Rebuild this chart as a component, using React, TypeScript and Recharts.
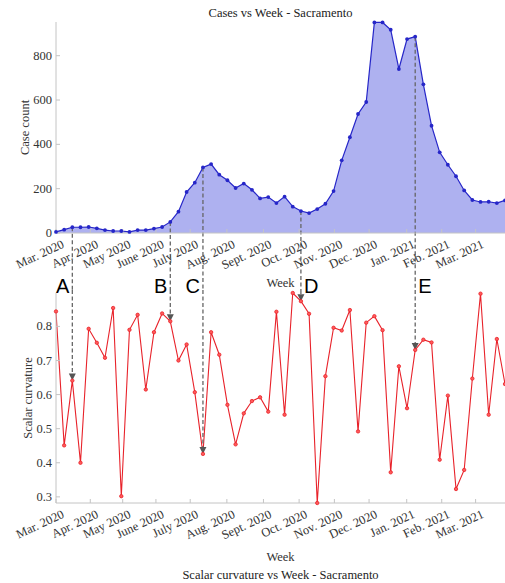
import React from "react";
import {
  ComposedChart,
  Area,
  Line,
  XAxis,
  YAxis,
  ReferenceLine,
} from "recharts";

// weekly case counts, Sacramento, starting first week of Mar. 2020
const caseCounts = [
  5, 15, 26, 26, 27, 21, 13, 9, 9, 5, 13, 13, 20, 27, 50, 96, 185, 227, 296,
  311, 263, 238, 203, 223, 195, 156, 162, 135, 164, 119, 99, 90, 108, 132, 189,
  328, 432, 537, 591, 950, 950, 917, 740, 875, 886, 671, 484, 364, 308, 256,
  192, 149, 140, 141, 135, 147,
];

// scalar curvature for the same weeks
const curvature = [
  0.844, 0.451, 0.641, 0.4, 0.793, 0.752, 0.708, 0.854, 0.302, 0.79, 0.834,
  0.615, 0.783, 0.838, 0.815, 0.7, 0.747, 0.607, 0.426, 0.783, 0.717, 0.57,
  0.454, 0.545, 0.581, 0.592, 0.55, 0.843, 0.541, 0.898, 0.874, 0.837, 0.282,
  0.654, 0.796, 0.788, 0.848, 0.492, 0.811, 0.83, 0.789, 0.372, 0.683, 0.56,
  0.731, 0.761, 0.753, 0.409, 0.597, 0.323, 0.379, 0.647, 0.896, 0.541, 0.763,
  0.631,
];

// month ticks, in week units
const monthTicks = [
  0, 4.2, 8.17, 12.24, 16.44, 20.93, 25.41, 29.78, 34.1, 38.35, 42.96, 47.25,
  51.4,
];
const monthLabels = [
  "Mar. 2020",
  "Apr. 2020",
  "May 2020",
  "June 2020",
  "July 2020",
  "Aug. 2020",
  "Sept. 2020",
  "Oct. 2020",
  "Nov. 2020",
  "Dec. 2020",
  "Jan. 2021",
  "Feb. 2021",
  "Mar. 2021",
];

const caseTicks = [0, 200, 400, 600, 800];
const curvatureTicks = [0.3, 0.4, 0.5, 0.6, 0.7, 0.8];

// annotated weeks
const markerLetters = ["A", "B", "C", "D", "E"];
const markerWeeks = [2, 14, 18, 30, 44];
const markerSide = ["left", "left", "left", "right", "right"];

const data = caseCounts.map((c, i) => ({
  week: i,
  cases: c,
  curvature: curvature[i],
}));

const W = 505;
const TOP_H = 300;
const BOTTOM_Y = 290;
const BOTTOM_H = 583 - BOTTOM_Y;
const CASE_DOMAIN: [number, number] = [0, 952];
const CURV_DOMAIN: [number, number] = [0.282, 0.898];

const SERIF = "'Liberation Serif', 'Times New Roman', serif";
const AXIS_GRAY = "#c4c4c4";
const TEXT_GRAY = "#333";
const DASH = "#666";

const serifStyle: React.CSSProperties = { fontFamily: SERIF };

const MonthTick = (props: any) => {
  const { x, y, payload } = props;
  const idx = monthTicks.indexOf(payload.value);
  const tx = x + 9;
  const ty = y + 14;
  return (
    <text
      x={tx}
      y={ty}
      transform={`rotate(-25, ${tx}, ${ty})`}
      textAnchor="end"
      style={serifStyle}
      fontSize={12.5}
      fill={TEXT_GRAY}
    >
      {monthLabels[idx] ?? ""}
    </text>
  );
};

const ValueTick = (props: any) => {
  const { x, y, payload } = props;
  return (
    <text
      x={x}
      y={y + 4}
      textAnchor="end"
      style={serifStyle}
      fontSize={12.5}
      fill={TEXT_GRAY}
    >
      {payload.value}
    </text>
  );
};

// dashed line from the case point down to the bottom of the top chart, plus the letter
const topMarkerShape = (letter: string, side: string) => (props: any) => {
  const { x1, y1, y2 } = props;
  const ly = y2 + 60;
  return (
    <g>
      <line
        x1={x1}
        y1={y1}
        x2={x1}
        y2={BOTTOM_Y}
        stroke={DASH}
        strokeWidth={1.3}
        strokeDasharray="4 2.5"
      />
      <text
        x={side === "left" ? x1 - 3 : x1 + 3}
        y={ly}
        textAnchor={side === "left" ? "end" : "start"}
        style={{ fontFamily: "'Liberation Sans', Arial, sans-serif" }}
        fontSize={20}
        fill="#000"
      >
        {letter}
      </text>
    </g>
  );
};

// dashed line from the top of the bottom chart down to the curvature point, with arrow
const bottomMarkerShape = (props: any) => {
  const { x1, y2 } = props;
  return (
    <g>
      <line
        x1={x1}
        y1={0}
        x2={x1}
        y2={y2 - 6}
        stroke={DASH}
        strokeWidth={1.3}
        strokeDasharray="4 2.5"
      />
      <polygon
        points={`${x1 - 3.5},${y2 - 7} ${x1 + 3.5},${y2 - 7} ${x1},${y2}`}
        fill="#555"
      />
    </g>
  );
};

const titleStyle: React.CSSProperties = {
  position: "absolute",
  left: 56,
  width: W - 56,
  textAlign: "center",
  fontFamily: SERIF,
  fontSize: 12.5,
  lineHeight: "16px",
  color: "#222",
};

const axisLabel = {
  fontSize: 12.5,
  fill: TEXT_GRAY,
  style: serifStyle,
};

export default function App() {
  return (
    <div
      style={{
        position: "absolute",
        top: 0,
        left: 0,
        width: W,
        height: 583,
        background: "#fff",
        overflow: "hidden",
      }}
    >
      <div style={{ ...titleStyle, top: 5 }}>Cases vs Week - Sacramento</div>

      <div style={{ position: "absolute", top: 0, left: 0 }}>
        <ComposedChart
          width={W}
          height={TOP_H}
          data={data}
          margin={{ top: 22, right: 0, bottom: 0, left: 0 }}
        >
          <XAxis
            dataKey="week"
            type="number"
            domain={[0, caseCounts.length - 1]}
            ticks={monthTicks}
            interval={0}
            height={TOP_H - 233}
            tickSize={-4}
            tickMargin={4}
            tick={<MonthTick />}
            axisLine={{ stroke: AXIS_GRAY }}
            tickLine={{ stroke: AXIS_GRAY }}
            label={{
              value: "Week",
              position: "insideBottom",
              offset: 13,
              ...axisLabel,
            }}
          />
          <YAxis
            type="number"
            domain={CASE_DOMAIN}
            ticks={caseTicks}
            interval={0}
            width={56}
            tickSize={-4}
            tickMargin={8}
            tick={<ValueTick />}
            axisLine={{ stroke: AXIS_GRAY }}
            tickLine={{ stroke: AXIS_GRAY }}
            label={{
              value: "Case count",
              angle: -90,
              position: "center",
              dx: -3,
              ...axisLabel,
            }}
          />
          <Area
            type="linear"
            dataKey="cases"
            stroke="#2626c8"
            strokeWidth={1.2}
            fill="#aeb1f0"
            fillOpacity={1}
            dot={{ r: 1.9, fill: "#2626c8", stroke: "#2626c8", strokeWidth: 0 }}
            activeDot={false}
            isAnimationActive={false}
          />
          {markerWeeks.map((w, i) => (
            <ReferenceLine
              key={`t${w}`}
              segment={[
                { x: w, y: caseCounts[w] },
                { x: w, y: 0 },
              ]}
              shape={topMarkerShape(markerLetters[i], markerSide[i])}
            />
          ))}
        </ComposedChart>
      </div>

      <div style={{ position: "absolute", top: BOTTOM_Y, left: 0 }}>
        <ComposedChart
          width={W}
          height={BOTTOM_H}
          data={data}
          margin={{ top: 3, right: 0, bottom: 0, left: 0 }}
        >
          <XAxis
            dataKey="week"
            type="number"
            domain={[0, curvature.length - 1]}
            ticks={monthTicks}
            interval={0}
            height={80}
            tickSize={-4}
            tickMargin={4}
            tick={<MonthTick />}
            axisLine={{ stroke: AXIS_GRAY }}
            tickLine={{ stroke: AXIS_GRAY }}
            label={{
              value: "Week",
              position: "insideBottom",
              offset: 22,
              ...axisLabel,
            }}
          />
          <YAxis
            type="number"
            domain={CURV_DOMAIN}
            ticks={curvatureTicks}
            interval={0}
            width={56}
            tickSize={-4}
            tickMargin={8}
            tick={<ValueTick />}
            axisLine={{ stroke: AXIS_GRAY }}
            tickLine={{ stroke: AXIS_GRAY }}
            label={{
              value: "Scalar curvature",
              angle: -90,
              position: "center",
              ...axisLabel,
            }}
          />
          <Line
            type="linear"
            dataKey="curvature"
            stroke="#e8222a"
            strokeWidth={1.1}
            dot={{ r: 1.7, fill: "#ff5a5a", stroke: "#e8222a", strokeWidth: 0.8 }}
            activeDot={false}
            isAnimationActive={false}
          />
          {markerWeeks.map((w) => (
            <ReferenceLine
              key={`b${w}`}
              segment={[
                { x: w, y: CURV_DOMAIN[1] },
                { x: w, y: curvature[w] },
              ]}
              shape={bottomMarkerShape}
            />
          ))}
        </ComposedChart>
      </div>

      <div style={{ ...titleStyle, top: 567 }}>
        Scalar curvature vs Week - Sacramento
      </div>
    </div>
  );
}
